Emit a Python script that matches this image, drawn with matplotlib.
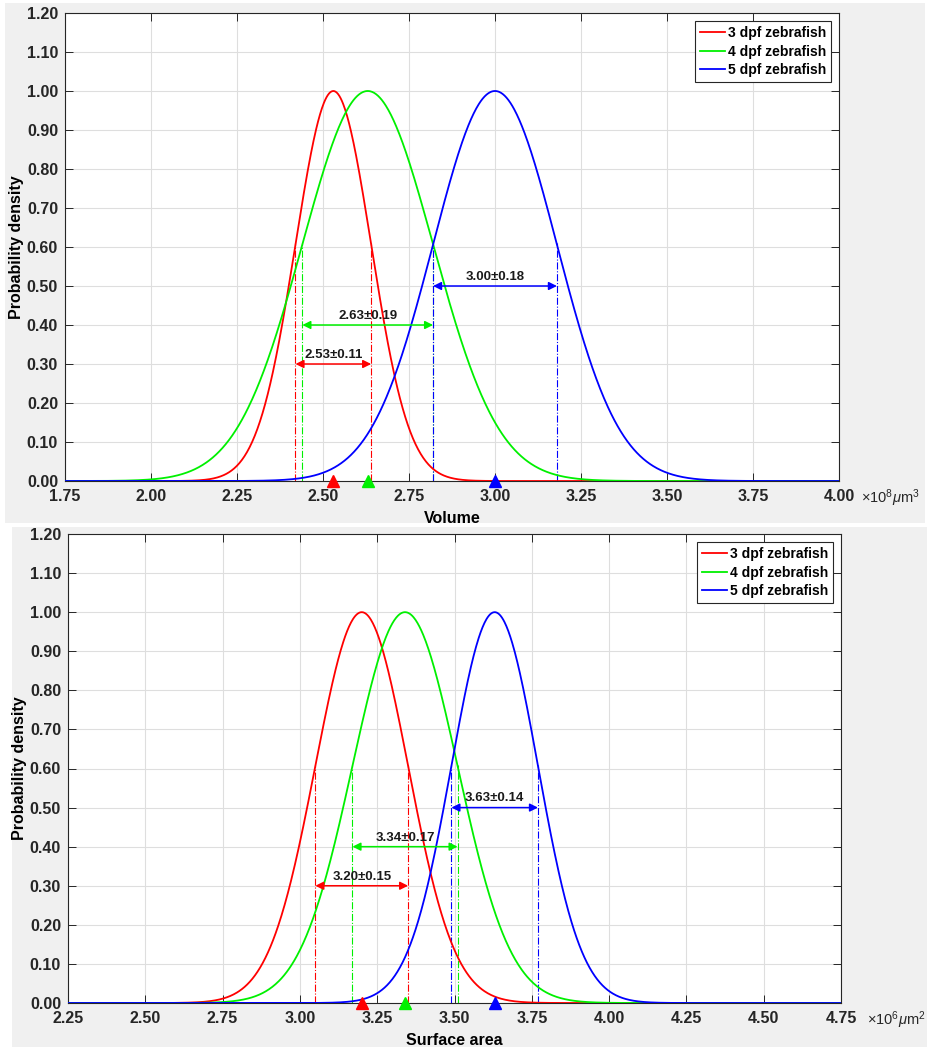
import numpy as np
import matplotlib
matplotlib.use('Agg')
import matplotlib.pyplot as plt
from matplotlib.patches import Rectangle

plt.rcParams['font.family'] = ['Liberation Sans', 'DejaVu Sans']
plt.rcParams['mathtext.fontset'] = 'custom'
plt.rcParams['mathtext.rm'] = 'Liberation Sans'
plt.rcParams['mathtext.it'] = 'Liberation Sans:italic'

# data
labels = ['3 dpf zebrafish', '4 dpf zebrafish', '5 dpf zebrafish']
colors = ['#ff0000', '#00f000', '#0000ff']
arrow_levels = [0.30, 0.40, 0.50]

vol_means = [2.53, 2.63, 3.00]
vol_sds = [0.11, 0.19, 0.18]
vol_ticks = [1.75, 2.00, 2.25, 2.50, 2.75, 3.00, 3.25, 3.50, 3.75, 4.00]

area_means = [3.20, 3.34, 3.63]
area_sds = [0.15, 0.17, 0.14]
area_ticks = [2.25, 2.50, 2.75, 3.00, 3.25, 3.50, 3.75, 4.00, 4.25, 4.50, 4.75]

y_ticks = [0.0, 0.1, 0.2, 0.3, 0.4, 0.5, 0.6, 0.7, 0.8, 0.9, 1.0, 1.1, 1.2]

W, H = 930, 1047
fig = plt.figure(figsize=(W / 100, H / 100), dpi=100, facecolor='white')

# gray panel backgrounds (two stacked MATLAB figures)
fig.patches.append(Rectangle((5 / W, 1 - 523 / H), 920 / W, 520 / H,
                             transform=fig.transFigure, facecolor='#f0f0f0',
                             edgecolor='none', zorder=-5))
fig.patches.append(Rectangle((12 / W, 0), 915 / W, 1 - 527 / H,
                             transform=fig.transFigure, facecolor='#f0f0f0',
                             edgecolor='none', zorder=-5))


def draw_panel(ax, means, sds, ticks, xlabel, exp_label, exp_x):
    x = np.linspace(ticks[0], ticks[-1], 1200)
    for m, s, c, lab, lev in zip(means, sds, colors, labels, arrow_levels):
        y = np.exp(-0.5 * ((x - m) / s) ** 2)
        ax.plot(x, y, color=c, lw=1.3, label=lab, zorder=3)
        top = 0.61
        for xv in (m - s, m + s):
            ax.plot([xv, xv], [0, top], color=c, lw=0.8, ls='-.', zorder=2)
        ax.annotate('', xy=(m - s, lev), xytext=(m + s, lev),
                    arrowprops=dict(arrowstyle='<|-|>', color=c, lw=1.1,
                                    mutation_scale=12, shrinkA=0, shrinkB=0),
                    zorder=4)
        ax.text(m, lev + 0.008, f'{m:.2f}\u00b1{s:.2f}', ha='center', va='bottom',
                fontsize=9.5, fontweight='bold', color='#1a1a1a', zorder=5)
        ax.plot([m], [0], marker='^', color=c, markersize=8, clip_on=False,
                zorder=6, ls='none')

    ax.set_xlim(ticks[0], ticks[-1])
    ax.set_ylim(0, 1.2)
    ax.set_xticks(ticks)
    ax.set_xticklabels([f'{t:.2f}' for t in ticks])
    ax.set_yticks(y_ticks)
    ax.set_yticklabels([f'{t:.2f}' for t in y_ticks])
    ax.tick_params(direction='in', length=6, width=0.7, top=True, right=True,
                   labelsize=11.5, colors='#262626')
    ax.tick_params(axis='x', pad=6)
    ax.tick_params(axis='y', pad=5)
    for t in ax.get_xticklabels() + ax.get_yticklabels():
        t.set_fontweight('bold')
    ax.grid(True, color='#dedede', lw=0.8, zorder=0)
    ax.set_axisbelow(True)
    for sp in ax.spines.values():
        sp.set_linewidth(0.8)
        sp.set_color('#262626')
    ax.set_xlabel(xlabel, fontsize=11.5, fontweight='bold', labelpad=5)
    ax.set_ylabel('Probability density', fontsize=11.5, fontweight='bold', labelpad=2)
    ax.text(exp_x, -0.014, exp_label, transform=ax.transAxes, ha='left',
            va='top', fontsize=10.5, color='#262626')
    leg = ax.legend(loc='upper right', fancybox=False, framealpha=1,
                    edgecolor='#262626', handlelength=1.8, handletextpad=0.2,
                    borderpad=0.35, labelspacing=0.32, borderaxespad=0.6,
                    prop={'weight': 'bold', 'size': 10})
    leg.get_frame().set_linewidth(0.8)


ax1 = fig.add_axes([65 / W, 1 - 481 / H, 774 / W, 468 / H])
draw_panel(ax1, vol_means, vol_sds, vol_ticks, 'Volume',
           r'$\times10^{8}\mathit{\mu}\mathrm{m}^{3}$', 1.029)

ax2 = fig.add_axes([68 / W, 1 - 1003 / H, 773 / W, 469 / H])
draw_panel(ax2, area_means, area_sds, area_ticks, 'Surface area',
           r'$\times10^{6}\mathit{\mu}\mathrm{m}^{2}$', 1.034)

fig.savefig('out.png', dpi=100, facecolor='white')
